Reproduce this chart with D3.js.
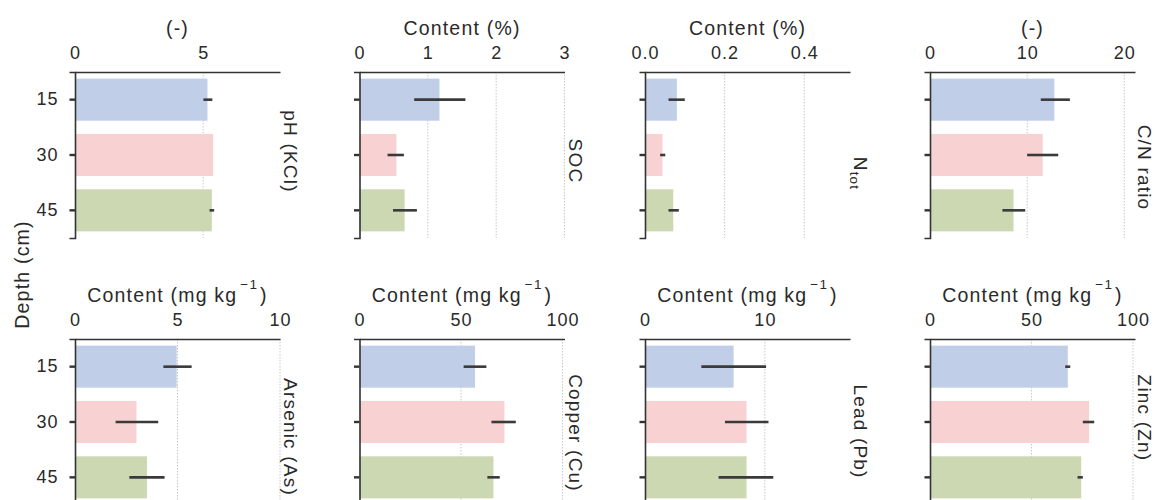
<!DOCTYPE html>
<html>
<head>
<meta charset="utf-8">
<script src="https://cdn.jsdelivr.net/npm/d3@7"></script>
<style>
  html, body { margin: 0; padding: 0; background: #fff; }
  svg { display: block; }
  text { font-family: "Liberation Sans", Arial, sans-serif; fill: #2a2a2a; }
</style>
</head>
<body>
<svg id="chart" width="1155" height="500"></svg>
<script>
// ---------- data ----------
const depths = ["15", "30", "45"];
const panelNames = ["pH (KCl)", "SOC", "N_tot", "C/N ratio", "Arsenic (As)", "Copper (Cu)", "Lead (Pb)", "Zinc (Zn)"];
const unitLabels = ["(-)", "Content (%)", "Content (%)", "(-)", "mgkg", "mgkg", "mgkg", "mgkg"];
const axisMax = [8, 3, 0.515, 21.1, 10, 101, 17.1, 101];
const tickValues = [[0, 5], [0, 1, 2, 3], [0, 0.2, 0.4], [0, 10, 20], [0, 5, 10], [0, 50, 100], [0, 10], [0, 50, 100]];
const tickFormats = ["d", "d", ".1f", "d", "d", "d", "d", "d"];

const phMean = [5.17, 5.39, 5.34], phLo = [5.01, 5.39, 5.25], phHi = [5.36, 5.39, 5.43];
const socMean = [1.17, 0.54, 0.66], socLo = [0.80, 0.41, 0.49], socHi = [1.55, 0.65, 0.84];
const ntotMean = [0.080, 0.044, 0.071], ntotLo = [0.059, 0.038, 0.059], ntotHi = [0.100, 0.051, 0.085];
const cnMean = [12.8, 11.6, 8.6], cnLo = [11.4, 10.0, 7.45], cnHi = [14.4, 13.2, 9.8];
const asMean = [4.96, 3.0, 3.51], asLo = [4.31, 1.98, 2.65], asHi = [5.69, 4.06, 4.37];
const cuMean = [56.9, 71.4, 66.0], cuLo = [51.3, 65.0, 63.0], cuHi = [62.5, 77.0, 69.1];
const pbMean = [7.39, 8.47, 8.47], pbLo = [4.7, 6.67, 6.14], pbHi = [10.1, 10.3, 10.7];
const znMean = [67.9, 78.4, 74.5], znLo = [66.6, 75.3, 72.7], znHi = [69.1, 80.9, 75.3];

const means = [phMean, socMean, ntotMean, cnMean, asMean, cuMean, pbMean, znMean];
const lows = [phLo, socLo, ntotLo, cnLo, asLo, cuLo, pbLo, znLo];
const highs = [phHi, socHi, ntotHi, cnHi, asHi, cuHi, pbHi, znHi];
const barColors = ["#c1cee8", "#f8d2d2", "#cbd8b2"];

// ---------- layout ----------
const colLeft = [75, 359.5, 645, 930];
const panelW = 205;
const rowTop = [72, 339];
const panelH = 166;
const labelCenterY = [151.5, 161, 173.5, 167.5, 437, 433, 431.5, 418];
const labelGap = [4, 4, 4, 2.5];

const svg = d3.select("#chart");

panelNames.forEach((name, i) => {
  const r = Math.floor(i / 4), c = i % 4;
  const x0 = colLeft[c], y0 = rowTop[r];
  const x = d3.scaleLinear().domain([0, axisMax[i]]).range([x0, x0 + panelW]);
  const y = d3.scaleBand().domain(depths).range([y0, y0 + panelH]).paddingInner(0.24).paddingOuter(0.12);
  const g = svg.append("g");

  // gridlines
  g.selectAll("line.grid").data(tickValues[i].filter(v => v > 0)).join("line")
    .attr("x1", d => x(d)).attr("x2", d => x(d))
    .attr("y1", y0).attr("y2", y0 + panelH)
    .attr("stroke", "#c8c8c8").attr("stroke-width", 1).attr("stroke-dasharray", "1.5,1.5");

  // bars
  g.selectAll("rect").data(depths).join("rect")
    .attr("x", x(0)).attr("y", d => y(d))
    .attr("width", (d, k) => x(means[i][k]) - x(0))
    .attr("height", y.bandwidth())
    .attr("fill", (d, k) => barColors[k]);

  // error bars
  g.selectAll("line.err").data(depths).join("line")
    .attr("x1", (d, k) => x(lows[i][k])).attr("x2", (d, k) => x(highs[i][k]))
    .attr("y1", d => y(d) + y.bandwidth() / 2).attr("y2", d => y(d) + y.bandwidth() / 2)
    .attr("stroke", "#3a3a3a").attr("stroke-width", 2.6);

  // top axis
  const fmt = d3.format(tickFormats[i]);
  const xAxis = d3.axisTop(x).tickValues(tickValues[i]).tickFormat(fmt).tickSize(0).tickPadding(13);
  const ax = g.append("g").attr("transform", `translate(0,${y0})`).call(xAxis);
  ax.select(".domain").attr("stroke", "#333").attr("stroke-width", 1.3);
  ax.selectAll("text").style("font-size", "18px").style("letter-spacing", "1px").attr("fill", "#2a2a2a")
    .attr("dy", "0");

  // left axis
  const yAxis = d3.axisLeft(y).tickSize(5.5).tickPadding(11).tickFormat(c === 0 ? (d => d) : () => "");
  const ay = g.append("g").attr("transform", `translate(${x0},0)`).call(yAxis);
  ay.select(".domain").attr("stroke", "#333").attr("stroke-width", 1.6);
  ay.selectAll(".tick line").attr("stroke", "#333").attr("stroke-width", 2.4);
  ay.selectAll("text").style("font-size", "18px").style("letter-spacing", "1px").attr("fill", "#2a2a2a");

  // unit label (top)
  const ut = g.append("text").attr("x", x0 + panelW / 2).attr("y", y0 - 37)
    .attr("text-anchor", "middle").style("font-size", "19.5px").style("letter-spacing", "1.2px");
  if (unitLabels[i] === "mgkg") {
    ut.append("tspan").text("Content (mg kg");
    ut.append("tspan").text("\u22121").style("font-size", "13.5px").attr("dx", 3).attr("dy", -13);
    ut.append("tspan").text(")").attr("dx", 2).attr("dy", 13);
  } else {
    ut.text(unitLabels[i]);
  }

  // right label (rotated)
  const rt = g.append("text")
    .attr("transform", `translate(${x0 + panelW + labelGap[c]},${labelCenterY[i]}) rotate(90)`)
    .attr("text-anchor", "middle").style("font-size", "19px").style("letter-spacing", "1.2px");
  if (name === "N_tot") {
    rt.append("tspan").text("N");
    rt.append("tspan").text("tot").style("font-size", "13.5px").attr("dy", 4);
  } else {
    rt.text(name);
  }
});

// shared y label
svg.append("text").attr("transform", "translate(29,274.5) rotate(-90)")
  .attr("text-anchor", "middle").style("font-size", "19.5px").style("letter-spacing", "1.2px")
  .text("Depth (cm)");
</script>
</body>
</html>
